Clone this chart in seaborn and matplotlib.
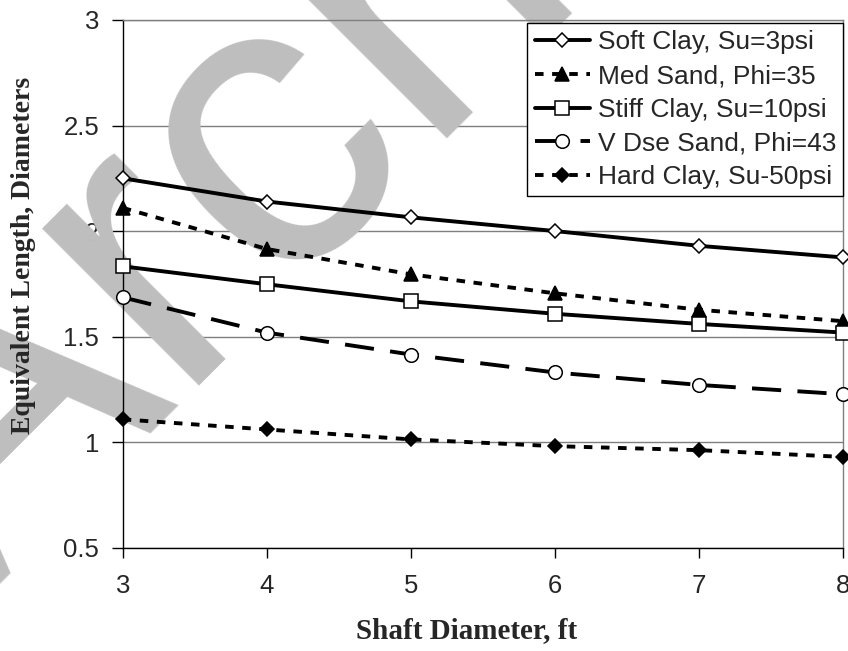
import pandas as pd
import seaborn as sns
import matplotlib.pyplot as plt

# Values
diameters = [3, 4, 5, 6, 7, 8]
soft_clay = [2.25, 2.14, 2.065, 2.0, 1.93, 1.875]
med_sand = [2.11, 1.915, 1.795, 1.705, 1.627, 1.573]
stiff_clay = [1.833, 1.748, 1.667, 1.608, 1.56, 1.519]
vdse_sand = [1.686, 1.519, 1.415, 1.33, 1.271, 1.227]
hard_clay = [1.108, 1.06, 1.013, 0.981, 0.962, 0.93]

labels = ["Soft Clay, Su=3psi", "Med Sand, Phi=35", "Stiff Clay, Su=10psi",
          "V Dse Sand, Phi=43", "Hard Clay, Su-50psi"]
y_ticks = [0.5, 1, 1.5, 2, 2.5, 3]

# long-form table for seaborn
df = pd.DataFrame({
    "Shaft Diameter": diameters * 5,
    "Equivalent Length": soft_clay + med_sand + stiff_clay + vdse_sand + hard_clay,
    "Soil": [lab for lab in labels for _ in diameters],
})

sns.set_style("white")
plt.rcParams['font.family'] = ['Liberation Sans', 'DejaVu Sans']

fig = plt.figure(figsize=(8.48, 6.51), dpi=100)
ax = fig.add_axes([0.1447, 0.1587, 0.8498, 0.8106])

# line style per series
styles = {
    labels[0]: dict(marker='D', ms=7, mfc='white', ls='-'),
    labels[1]: dict(marker='^', ms=10, mfc='black', ls=(0, (2.2, 2.2))),
    labels[2]: dict(marker='s', ms=9.6, mfc='white', ls='-'),
    labels[3]: dict(marker='o', ms=9.8, mfc='white', ls=(0, (7.5, 4.2))),
    labels[4]: dict(marker='D', ms=7, mfc='black', ls=(0, (2.2, 2.2))),
}

for lab in labels:
    sub = df[df["Soil"] == lab]
    st = styles[lab]
    sns.lineplot(data=sub, x="Shaft Diameter", y="Equivalent Length", ax=ax,
                 color='black', lw=2.8, linestyle=st['ls'], marker=st['marker'],
                 markersize=st['ms'], markerfacecolor=st['mfc'],
                 markeredgecolor='black', markeredgewidth=1.1, label=lab,
                 zorder=3, clip_on=False)

ax.set_xlim(3, 8)
ax.set_ylim(0.5, 3)
ax.set_xticks(diameters)
ax.set_yticks(y_ticks)
ax.set_yticklabels([f"{v:g}" for v in y_ticks])
ax.set_axisbelow(True)
ax.yaxis.grid(True, color='#7f7f7f', lw=1)
ax.xaxis.grid(False)

for s in ['top', 'right']:
    ax.spines[s].set_color('#7f7f7f')
    ax.spines[s].set_linewidth(1)
for s in ['left', 'bottom']:
    ax.spines[s].set_color('black')
    ax.spines[s].set_linewidth(1)

ax.tick_params(axis='x', direction='out', length=7, width=1, color='black',
               pad=12, labelsize=18.5, bottom=True)
ax.tick_params(axis='y', direction='out', length=8, width=1, color='black',
               pad=9, labelsize=18.5, left=True)

ax.set_xlabel("")
ax.set_ylabel("")
fig.text(467 / 848, 1 - 631 / 651, "Shaft Diameter, ft", ha='center', va='center',
         fontsize=21, fontweight='bold', family='Liberation Serif', zorder=5)
fig.text(24 / 848, 1 - 255 / 651, "Equivalent Length, Diameters", ha='center',
         va='center', rotation=90, fontsize=20, fontweight='bold',
         family='Liberation Serif', zorder=5)

leg = ax.legend(loc='upper right', bbox_to_anchor=(1.0, 0.994), fontsize=19,
                frameon=True, fancybox=False, framealpha=1, edgecolor='black',
                handlelength=2.1, handletextpad=0.3, labelspacing=0.37,
                borderpad=0.27, borderaxespad=0)
leg.get_frame().set_linewidth(1)
leg.set_zorder(6)

# watermark behind the data lines
ax.text(-18 / 848, 1 - 602 / 651, "Archived", transform=fig.transFigure,
        rotation=45, rotation_mode='anchor', ha='left', va='baseline',
        fontsize=302, color='#bebebe', zorder=1, clip_on=False)

fig.savefig("out.png", dpi=100)
